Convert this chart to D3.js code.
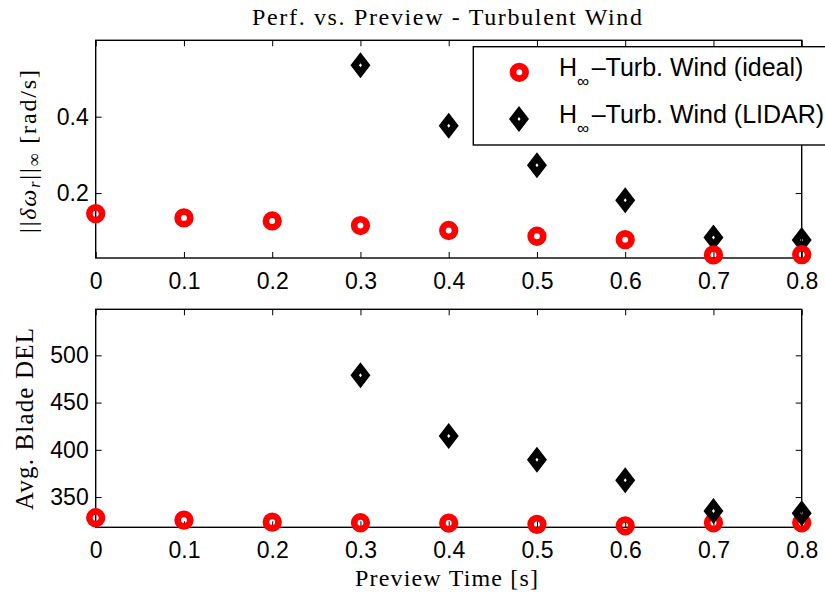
<!DOCTYPE html>
<html>
<head>
<meta charset="utf-8">
<script src="https://d3js.org/d3.v7.min.js"></script>
<style>
  body { margin: 0; background: #fff; }
  .tick text { font-family: "Liberation Sans", Arial, sans-serif; font-size: 23px; fill: #000; }
  .tick line { stroke: #000; stroke-width: 1; }
  .serif { font-family: "Liberation Serif", "Times New Roman", serif; fill: #000; }
</style>
</head>
<body>
<div class="chart-box"></div>
<script>
// preview times (x) and the two series for each panel
var preview_times = [0, 0.1, 0.2, 0.3, 0.4, 0.5, 0.6, 0.7, 0.8];
var lidar_times   = [0.3, 0.4, 0.5, 0.6, 0.7, 0.8];

var omega_ideal = [0.146, 0.135, 0.127, 0.115, 0.102, 0.087, 0.078, 0.038, 0.039];
var omega_lidar = [0.535, 0.376, 0.273, 0.181, 0.084, 0.077];

var del_ideal = [328.1, 325.6, 323.5, 322.8, 322.5, 321.1, 319.6, 322.8, 322.8];
var del_lidar = [478.9, 414.6, 389.5, 367.7, 335.2, 333.0];

var x_ticks = [0, 0.1, 0.2, 0.3, 0.4, 0.5, 0.6, 0.7, 0.8];
var omega_ticks = [0.2, 0.4];
var del_ticks = [350, 400, 450, 500];

var legend_labels = ["Turb. Wind (ideal)", "Turb. Wind (LIDAR)"];

var width = 825, height = 594;
var left = 95.7, right = 801.7;

var svg = d3.select(".chart-box").append("svg")
    .attr("width", width)
    .attr("height", height);

var x = d3.scaleLinear().domain([0, 0.8]).range([left, right]);

function diamond(cx, cy) {
  // outer diamond with a small hole in the middle (evenodd)
  return "M" + cx + "," + (cy - 13) + "L" + (cx + 10) + "," + cy +
         "L" + cx + "," + (cy + 13) + "L" + (cx - 10) + "," + cy + "Z" +
         "M" + cx + "," + (cy - 2) + "L" + (cx + 1.5) + "," + cy +
         "L" + cx + "," + (cy + 2) + "L" + (cx - 1.5) + "," + cy + "Z";
}

function draw_circles(g, y, xs, vals) {
  g.selectAll(null)
      .data(vals)
    .enter().append("circle")
      .attr("cx", function(d, i) { return x(xs[i]); })
      .attr("cy", function(d) { return y(d); })
      .attr("r", 6.3)
      .attr("fill", "none")
      .attr("stroke", "#ff0000")
      .attr("stroke-width", 6.7);
}

function draw_diamonds(g, y, xs, vals) {
  g.selectAll(null)
      .data(vals)
    .enter().append("path")
      .attr("d", function(d, i) { return diamond(x(xs[i]), y(d)); })
      .attr("fill", "#000")
      .attr("fill-rule", "evenodd");
}

function draw_panel(top, bottom, domain, yticks, yfmt) {
  var y = d3.scaleLinear().domain(domain).range([bottom, top]);
  var g = svg.append("g");

  g.append("rect")
      .attr("x", left).attr("y", top)
      .attr("width", right - left).attr("height", bottom - top)
      .attr("fill", "none").attr("stroke", "#000").attr("stroke-width", 1.4);

  g.append("g")
      .attr("transform", "translate(0," + bottom + ")")
      .call(d3.axisBottom(x).tickValues(x_ticks).tickSize(-6).tickPadding(14.5)
              .tickFormat(d3.format("~g")))
      .call(function(a) { a.select(".domain").remove(); });
  g.append("g")
      .attr("transform", "translate(0," + top + ")")
      .call(d3.axisTop(x).tickValues(x_ticks).tickSize(-6).tickFormat(""))
      .call(function(a) { a.select(".domain").remove(); });
  g.append("g")
      .attr("transform", "translate(" + left + ",0)")
      .call(d3.axisLeft(y).tickValues(yticks).tickSize(-6).tickPadding(7).tickFormat(yfmt))
      .call(function(a) { a.select(".domain").remove(); });
  g.append("g")
      .attr("transform", "translate(" + right + ",0)")
      .call(d3.axisRight(y).tickValues(yticks).tickSize(-6).tickFormat(""))
      .call(function(a) { a.select(".domain").remove(); });

  svg.selectAll(".tick text").attr("font-family", null).attr("font-size", null);
  return {g: g, y: y};
}

// top panel
var p1 = draw_panel(40.3, 258, [0.03, 0.6], omega_ticks, d3.format(".1f"));
draw_diamonds(p1.g, p1.y, lidar_times, omega_lidar);
draw_circles(p1.g, p1.y, preview_times, omega_ideal);

// bottom panel
var p2 = draw_panel(309.3, 527.3, [318, 548.7], del_ticks, d3.format("d"));
draw_circles(p2.g, p2.y, preview_times, del_ideal);
draw_diamonds(p2.g, p2.y, lidar_times, del_lidar);

// legend
var leg = svg.append("g");
leg.append("rect")
    .attr("x", 473.3).attr("y", 46.7)
    .attr("width", 380).attr("height", 98.3)
    .attr("fill", "#fff").attr("stroke", "#000").attr("stroke-width", 1.4);
leg.append("circle")
    .attr("cx", 519.3).attr("cy", 72.3).attr("r", 6.3)
    .attr("fill", "none").attr("stroke", "#ff0000").attr("stroke-width", 6.7);
leg.append("path")
    .attr("d", diamond(519, 119))
    .attr("fill", "#000").attr("fill-rule", "evenodd");

var rows = [76, 122.7];
legend_labels.forEach(function(lab, i) {
  var t = leg.append("g").attr("font-family", "'Liberation Sans', Arial, sans-serif").attr("fill", "#000");
  t.append("text").attr("x", 559).attr("y", rows[i]).attr("font-size", 25).text("H");
  t.append("text").attr("x", 577).attr("y", rows[i] + 11).attr("font-size", 17).text("\u221e");
  t.append("text").attr("x", 591.7).attr("y", rows[i]).attr("font-size", 25).text("\u2013" + lab);
});

// title and axis labels
svg.append("text")
    .attr("class", "serif")
    .attr("x", 447).attr("y", 25)
    .attr("text-anchor", "middle")
    .attr("font-size", 24)
    .attr("textLength", 390).attr("lengthAdjust", "spacing")
    .text("Perf. vs. Preview - Turbulent Wind");

svg.append("text")
    .attr("class", "serif")
    .attr("x", 446.5).attr("y", 586)
    .attr("text-anchor", "middle")
    .attr("font-size", 24)
    .attr("textLength", 183).attr("lengthAdjust", "spacing")
    .text("Preview Time [s]");

svg.append("text")
    .attr("class", "serif")
    .attr("transform", "translate(33,419) rotate(-90)")
    .attr("text-anchor", "middle")
    .attr("font-size", 25)
    .attr("textLength", 182).attr("lengthAdjust", "spacing")
    .text("Avg. Blade DEL");

var yl = svg.append("text")
    .attr("class", "serif")
    .attr("transform", "translate(36,233) rotate(-90)")
    .attr("font-size", 24)
    .attr("textLength", 163).attr("lengthAdjust", "spacing");
yl.append("tspan").text("||");
yl.append("tspan").attr("font-style", "italic").text("\u03b4\u03c9");
yl.append("tspan").attr("font-style", "italic").attr("font-size", 16).attr("dy", 4).text("r");
yl.append("tspan").attr("dy", -4).text("||");
yl.append("tspan").attr("font-size", 18).attr("dy", 4).text("\u221e");
yl.append("tspan").attr("dy", -4).text(" [rad/s]");
</script>
</body>
</html>
